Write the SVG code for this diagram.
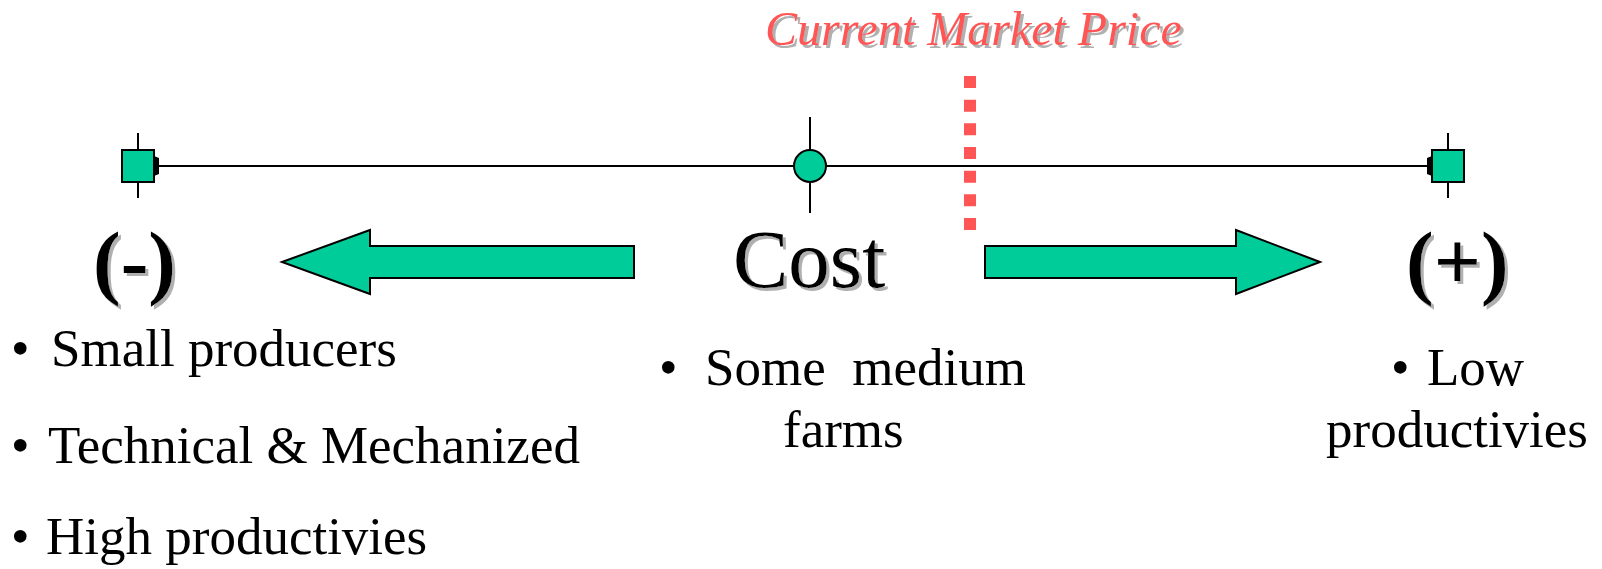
<svg xmlns="http://www.w3.org/2000/svg" width="1602" height="569" viewBox="0 0 1602 569">
  <defs>
    <filter id="shadow" x="-10%" y="-10%" width="130%" height="140%">
      <feDropShadow dx="3" dy="3" stdDeviation="0.6" flood-color="#b0b0b0" flood-opacity="1"/>
    </filter>
  </defs>
  <style>
    .serif { font-family: "Liberation Serif", "Times New Roman", serif; }
    .bul { font-size: 53px; fill: #000; }
    .big { font-size: 83px; fill: #000; }
    .node { fill: #00CC99; stroke: #000; stroke-width: 2; }
    .tick { stroke: #000; stroke-width: 2; }
    .axis { stroke: #000; stroke-width: 2; fill: none; }
    .arrow { fill: #00CC99; stroke: #000; stroke-width: 2; stroke-linejoin: miter; }
  </style>
  <rect width="1602" height="569" fill="#ffffff"/>

  <g id="title">
    <text class="serif" x="765" y="45" font-size="48" font-style="italic" fill="#FF5555" filter="url(#shadow)">Current Market Price</text>
  </g>

  <g id="market-price-line">
    <line x1="970" y1="76" x2="970" y2="230" stroke="#FF5555" stroke-width="12" stroke-dasharray="12 11.67"/>
  </g>

  <g id="connectors">
    <line class="axis" x1="159" y1="166" x2="1427" y2="166"/>
    <path d="M154,156 L159,158 L159,174 L154,176 Z" fill="#000"/>
    <path d="M1432,156 L1427,158 L1427,174 L1432,176 Z" fill="#000"/>
  </g>

  <g id="node-left">
    <line class="tick" x1="138" y1="133" x2="138" y2="198"/>
    <rect class="node" x="122" y="150" width="32" height="32"/>
  </g>

  <g id="node-center">
    <line class="tick" x1="810" y1="117" x2="810" y2="213"/>
    <circle class="node" cx="810" cy="166" r="16"/>
  </g>

  <g id="node-right">
    <line class="tick" x1="1448" y1="133" x2="1448" y2="198"/>
    <rect class="node" x="1432" y="150" width="32" height="32"/>
  </g>

  <g id="arrow-left">
    <polygon class="arrow" points="282,262 370,230 370,246 634,246 634,278 370,278 370,294"/>
  </g>

  <g id="arrow-right">
    <polygon class="arrow" points="1320,262 1236,230 1236,246 985,246 985,278 1236,278 1236,294"/>
  </g>

  <g id="label-minus">
    <text class="serif big" x="93" y="289" font-weight="bold" filter="url(#shadow)">(-)</text>
  </g>

  <g id="label-cost">
    <text class="serif big" x="733" y="287" filter="url(#shadow)">Cost</text>
  </g>

  <g id="label-plus">
    <text class="serif big" x="1406" y="289" font-weight="bold" filter="url(#shadow)">(+)</text>
  </g>

  <g id="list-left">
    <text class="serif bul" y="366"><tspan x="11">•</tspan><tspan x="51">Small producers</tspan></text>
    <text class="serif bul" y="463"><tspan x="11">•</tspan><tspan x="48">Technical &amp; Mechanized</tspan></text>
    <text class="serif bul" y="554"><tspan x="11">•</tspan><tspan x="46">High productivies</tspan></text>
  </g>

  <g id="list-center">
    <text class="serif bul" y="385" xml:space="preserve"><tspan x="659">•</tspan><tspan x="705">Some  medium</tspan></text>
    <text class="serif bul" x="783" y="447">farms</text>
  </g>

  <g id="list-right">
    <text class="serif bul" y="385"><tspan x="1391">•</tspan><tspan x="1427">Low</tspan></text>
    <text class="serif bul" x="1326" y="447">productivies</text>
  </g>
</svg>
